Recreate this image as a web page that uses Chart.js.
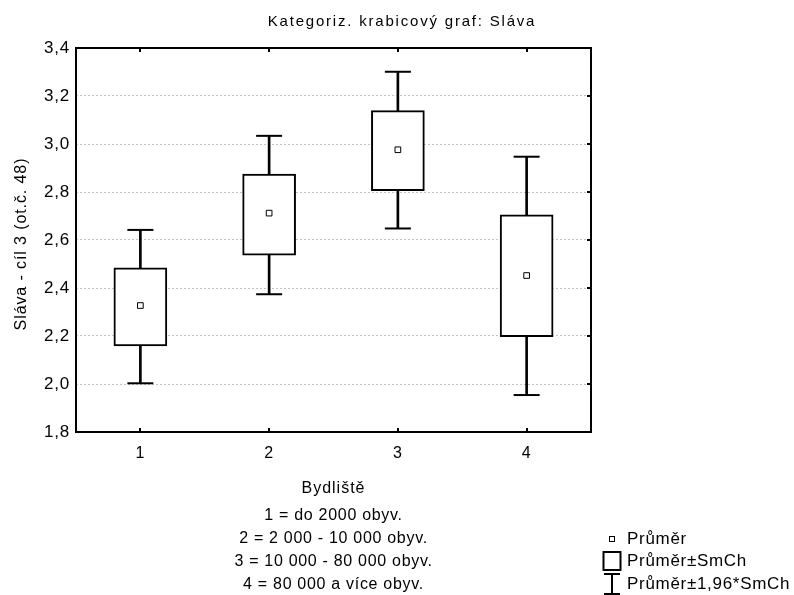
<!DOCTYPE html>
<html>
<head>
<meta charset="utf-8">
<script src="https://cdn.jsdelivr.net/npm/chart.js@4"></script>
<style>
  body { margin: 0; background: #fff; }
  #wrap { width: 794px; height: 595px; position: relative; }
</style>
</head>
<body>
<div id="wrap"><canvas id="box-chart"></canvas></div>
<script>
// values
const categories = ['1', '2', '3', '4']
const means = [2.327, 2.712, 2.976, 2.452]
const seLow = [2.159, 2.537, 2.806, 2.197]
const seHigh = [2.484, 2.875, 3.139, 2.705]
const ciLow = [2.003, 2.374, 2.648, 1.954]
const ciHigh = [2.642, 3.034, 3.301, 2.947]
const yMin = 1.8
const yMax = 3.4
const yStep = 0.2

const chartTitle = 'Kategoriz. krabicový graf: Sláva'
const yTitle = 'Sláva - cíl 3 (ot.č. 48)'
const xTitle = 'Bydliště'
const xNotes = ['1 = do 2000 obyv.', '2 = 2 000 - 10 000 obyv.', '3 = 10 000 - 80 000 obyv.', '4 = 80 000 a více obyv.']
const legendLabels = ['Průměr', 'Průměr±SmCh', 'Průměr±1,96*SmCh']

const FONT = "'Liberation Sans', Arial, sans-serif"
const ctx = document.getElementById('box-chart').getContext('2d')

// the old statistica output has wide letter spacing
const spacing = {
    id: 'spacing',
    beforeDraw(chart) {
        chart.ctx.letterSpacing = '0.8px'
    }
}

// frame with inner ticks, titles, notes and legend
const decor = {
    id: 'decor',
    afterDraw(chart) {
        const c = chart.ctx
        const a = chart.chartArea
        const xs = chart.scales.x
        const ys = chart.scales.y
        c.save()
        c.strokeStyle = '#000'
        c.lineWidth = 2
        c.strokeRect(a.left, a.top, a.right - a.left, a.bottom - a.top)

        c.beginPath()
        categories.forEach((cat, i) => {
            const px = Math.round(xs.getPixelForValue(i))
            c.moveTo(px, a.top); c.lineTo(px, a.top + 4)
            c.moveTo(px, a.bottom); c.lineTo(px, a.bottom - 4)
        })
        ys.ticks.forEach(t => {
            if (t.value <= yMin + 1e-6 || t.value >= yMax - 1e-6) return
            const py = Math.round(ys.getPixelForValue(t.value))
            c.moveTo(a.right, py); c.lineTo(a.right - 4, py)
        })
        c.stroke()

        c.fillStyle = '#000'
        c.textAlign = 'center'
        c.textBaseline = 'middle'
        c.font = '15px ' + FONT
        c.letterSpacing = '1.8px'
        c.fillText(chartTitle, 402, 22)

        c.save()
        c.translate(22, (a.top + a.bottom) / 2 + 4)
        c.rotate(-Math.PI / 2)
        c.font = '16px ' + FONT
        c.letterSpacing = '0.9px'
        c.fillText(yTitle, 0, 0)
        c.restore()

        const cx = (a.left + a.right) / 2
        c.font = '16px ' + FONT
        c.letterSpacing = '1px'
        c.fillText(xTitle, cx, 489)
        c.letterSpacing = '0.7px'
        xNotes.forEach((t, i) => c.fillText(t, cx, 516 + i * 22.7))

        // legend
        c.textAlign = 'left'
        c.font = '17px ' + FONT
        c.letterSpacing = '0.7px'
        const lx = 612
        const ly = [539, 561, 584]
        c.lineWidth = 1
        c.fillStyle = '#fff'
        c.fillRect(lx - 2.5, ly[0] - 2.5, 5, 5)
        c.strokeRect(lx - 2.5, ly[0] - 2.5, 5, 5)
        c.lineWidth = 2
        c.strokeRect(lx - 8.5, ly[1] - 9, 17, 18)
        c.beginPath()
        c.moveTo(lx - 8, ly[2] - 10); c.lineTo(lx + 8, ly[2] - 10)
        c.moveTo(lx, ly[2] - 10); c.lineTo(lx, ly[2] + 10)
        c.moveTo(lx - 8, ly[2] + 10); c.lineTo(lx + 8, ly[2] + 10)
        c.stroke()
        c.fillStyle = '#000'
        legendLabels.forEach((t, i) => c.fillText(t, 627, ly[i]))
        c.restore()
    }
}

const capPoints = ciHigh.map((v, i) => ({ x: categories[i], y: v }))
    .concat(ciLow.map((v, i) => ({ x: categories[i], y: v })))

new Chart(ctx, {
    type: 'bar',
    data: {
        labels: categories,
        datasets: [
            {
                label: 'stems',
                data: ciLow.map((v, i) => [v, ciHigh[i]]),
                backgroundColor: '#000',
                barThickness: 2,
                grouped: false,
                order: 3
            },
            {
                label: legendLabels[1],
                data: seLow.map((v, i) => [v, seHigh[i]]),
                backgroundColor: '#fff',
                borderColor: '#000',
                borderWidth: 2,
                borderSkipped: false,
                barThickness: 53,
                grouped: false,
                order: 2
            },
            {
                type: 'line',
                label: legendLabels[2],
                data: capPoints,
                showLine: false,
                pointStyle: 'line',
                pointRadius: 13,
                pointBorderWidth: 2,
                pointBorderColor: '#000',
                order: 1
            },
            {
                type: 'line',
                label: legendLabels[0],
                data: means,
                showLine: false,
                pointStyle: 'rect',
                pointRadius: 4,
                pointBackgroundColor: '#fff',
                pointBorderColor: '#000',
                pointBorderWidth: 1,
                order: 0
            }
        ]
    },
    options: {
        responsive: true,
        maintainAspectRatio: false,
        animation: false,
        layout: { padding: { left: 0, top: 48, right: 203, bottom: 0 } },
        plugins: {
            legend: { display: false },
            tooltip: { enabled: false },
            title: { display: false }
        },
        scales: {
            x: {
                offset: true,
                grid: { display: false, drawTicks: false },
                border: { display: false },
                ticks: { color: '#000', font: { family: FONT, size: 16 }, padding: 12 },
                afterFit: s => { s.height = 163 }
            },
            y: {
                min: yMin,
                max: yMax,
                grid: {
                    drawTicks: false,
                    color: c => (c.tick && (c.tick.value <= yMin + 1e-6 || c.tick.value >= yMax - 1e-6)) ? 'rgba(0,0,0,0)' : '#c4c4c4'
                },
                border: { display: false, dash: [2, 2] },
                ticks: {
                    stepSize: yStep,
                    color: '#000',
                    font: { family: FONT, size: 17 },
                    padding: 6,
                    callback: v => Number(v).toFixed(1).replace('.', ',')
                },
                afterFit: s => { s.width = 76 }
            }
        }
    },
    plugins: [spacing, decor]
})
</script>
</body>
</html>
